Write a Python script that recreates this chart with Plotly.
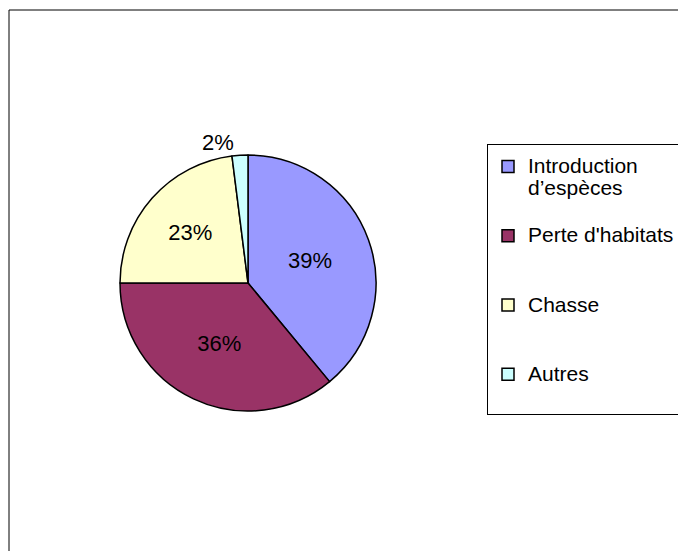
import plotly.graph_objects as go

labels = ["Introduction d’espèces", "Perte d'habitats", "Chasse", "Autres"]
legend_names = ["Introduction<br>d’espèces<br> ", "Perte d'habitats<br> <br> ", "Chasse<br> <br> ", "Autres<br> "]
values = [39, 36, 23, 2]
colors = ["#9999FF", "#993366", "#FFFFCC", "#CCFFFF"]
text_pos = ["inside", "inside", "inside", "outside"]

W, H = 686, 551
OFF = 8  # page body margin
FONT = "Arial, 'Liberation Sans', sans-serif"


def px(x):
    return (x - OFF) / W


def py(y):
    return (H - (y - OFF)) / H


fig = go.Figure(go.Pie(
    labels=[f"<span style='font-size:21px'>{n}</span>" for n in legend_names],
    values=values,
    sort=False,
    direction="clockwise",
    rotation=0,
    marker=dict(colors=colors, line=dict(color="black", width=1.5)),
    textinfo="percent",
    texttemplate="%{percent:.0%}",
    textposition=text_pos,
    insidetextorientation="horizontal",
    textfont=dict(family=FONT, size=22, color="black"),
    domain=dict(x=[px(120), px(376)], y=[py(411), py(155)]),
    hoverinfo="label+percent",
))

fig.update_layout(
    width=W, height=H,
    margin=dict(l=0, r=0, t=0, b=0),
    paper_bgcolor="white",
    plot_bgcolor="white",
    font=dict(family=FONT, color="black"),
    showlegend=True,
    legend=dict(
        x=px(487), xanchor="left",
        y=py(144), yanchor="top",
        bgcolor="white", bordercolor="black", borderwidth=1,
        font=dict(family=FONT, size=17, color="black"),
        title=dict(text=" ", font=dict(size=3)),
        valign="top",
        traceorder="normal",
    ),
    shapes=[dict(type="rect", xref="paper", yref="paper",
                 x0=px(9), x1=1.2, y0=-0.2, y1=py(10),
                 line=dict(color="black", width=1), fillcolor="rgba(0,0,0,0)", layer="below")],
)

fig.write_html("out.html")
